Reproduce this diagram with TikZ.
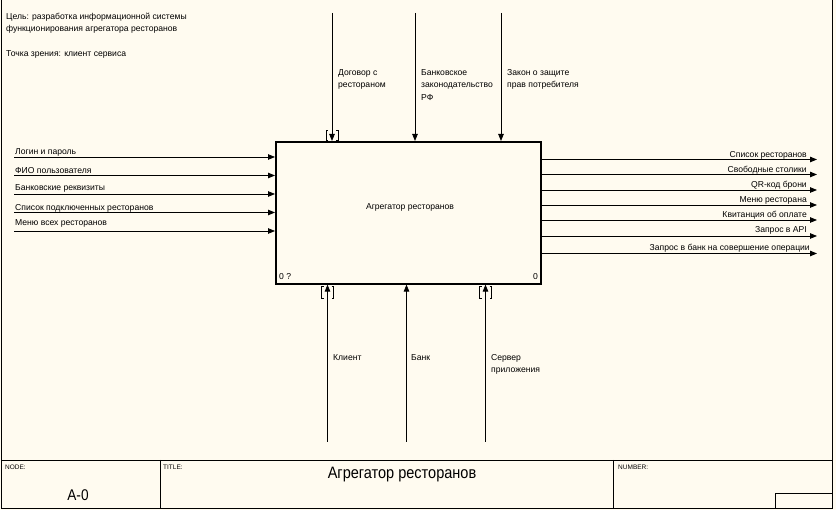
\documentclass[tikz,border=0pt]{standalone}
\usepackage{fontspec}
\setmainfont{Liberation Sans}
\newfontfamily\narrowfont[FakeStretch=0.88]{Liberation Sans}
\usetikzlibrary{arrows.meta}
\definecolor{paper}{RGB}{255,251,240}
\tikzset{
  arr/.style={-{Triangle[length=7pt,width=5.5pt]}, line width=0.8pt},
  lbl/.style={inner sep=0pt, font=\fontsize{8.6}{12.5}\selectfont},
  small/.style={inner sep=0pt, font=\fontsize{6.5}{7}\selectfont},
  frame/.style={line width=0.9pt},
  brk/.style={line width=0.7pt}
}
\begin{document}
\begin{tikzpicture}[x=1pt,y=-1pt]
\useasboundingbox (0,0) rectangle (836,510);
\fill[paper] (0,0) rectangle (836,510);
% frame
\draw[frame] (1,0) -- (1,508) -- (832.5,508) -- (832.5,0);
\draw[frame] (1,460) -- (832.5,460);
\draw[frame] (160,460) -- (160,508);
\draw[frame] (613,460) -- (613,508);
\draw[frame] (775,508) -- (775,493) -- (832.5,493);
% title block texts
\node[small, anchor=base west] (tnode) at (5,470) {NODE:};
\node[small, anchor=base west] (ttitle) at (163,470) {TITLE:};
\node[small, anchor=base west] (tnum) at (618,470) {NUMBER:};
\node[inner sep=0pt, font=\narrowfont\fontsize{15.5}{17}\selectfont, anchor=base] (tA0) at (78,501) {A-0};
\node[inner sep=0pt, font=\narrowfont\fontsize{16.5}{18}\selectfont, anchor=base] (tname) at (402,479) {Агрегатор ресторанов};
% purpose
\node[lbl, anchor=base west, align=left] (goal) at (6,32) {Цель: разработка информационной системы\\функционирования агрегатора ресторанов};
\node[lbl, anchor=base west] (view) at (6,57) {Точка зрения: клиент сервиса};
% main box
\node[draw, line width=1.6pt, minimum width=265pt, minimum height=142pt, anchor=north west, inner sep=0pt] (A0) at (275,141) {};
\node[lbl] (A0name) at (410,207) {Агрегатор ресторанов};
\node[lbl, anchor=base west] (A0l) at (279,280) {0 ?};
\node[lbl, anchor=base east] (A0r) at (538,280) {0};
% controls
\coordinate (c1) at (332,13);
\coordinate (c2) at (415,13);
\coordinate (c3) at (501,13);
\draw[arr] (c1) -- (c1 |- A0.north);
\draw[arr] (c2) -- (c2 |- A0.north);
\draw[arr] (c3) -- (c3 |- A0.north);
\node[lbl, anchor=base west, align=left] (lc1) at (338,88) {Договор с\\рестораном};
\node[lbl, anchor=base west, align=left] (lc2) at (421,100.5) {Банковское\\законодательство\\РФ};
\node[lbl, anchor=base west, align=left] (lc3) at (507,88) {Закон о защите\\прав потребителя};
\draw[brk] (328,130) -- (326,130) -- (326,140) -- (328,140);
\draw[brk] (336,130) -- (338,130) -- (338,140) -- (336,140);
% inputs
\coordinate (i1) at (14,157);
\coordinate (i2) at (14,175.5);
\coordinate (i3) at (14,194);
\coordinate (i4) at (14,212.5);
\coordinate (i5) at (14,231);
\foreach \i in {1,...,5} {\draw[arr] (i\i) -- (i\i -| A0.west);}
\node[lbl, anchor=base west] (li1) at (15,155) {Логин и пароль};
\node[lbl, anchor=base west] (li2) at (15,174) {ФИО пользователя};
\node[lbl, anchor=base west] (li3) at (15,190.5) {Банковские реквизиты};
\node[lbl, anchor=base west] (li4) at (15,211) {Список подключенных ресторанов};
\node[lbl, anchor=base west] (li5) at (15,226) {Меню всех ресторанов};
% outputs
\coordinate (o1) at (817,159.5);
\coordinate (o2) at (817,174.5);
\coordinate (o3) at (817,190);
\coordinate (o4) at (817,205);
\coordinate (o5) at (817,220);
\coordinate (o6) at (817,236);
\coordinate (o7) at (817,253.5);
\foreach \i in {1,...,7} {\draw[arr] (o\i -| A0.east) -- (o\i);}
\node[lbl, anchor=base east] (lo1) at (807,158) {Список ресторанов};
\node[lbl, anchor=base east] (lo2) at (807,173) {Свободные столики};
\node[lbl, anchor=base east] (lo3) at (807,187.5) {QR-код брони};
\node[lbl, anchor=base east] (lo4) at (807,203) {Меню ресторана};
\node[lbl, anchor=base east] (lo5) at (807,218) {Квитанция об оплате};
\node[lbl, anchor=base east] (lo6) at (807,233) {Запрос в API};
\node[lbl, anchor=base east] (lo7) at (810,251) {Запрос в банк на совершение операции};
% mechanisms
\coordinate (m1) at (327.5,442);
\coordinate (m2) at (406.5,442);
\coordinate (m3) at (485.5,442);
\draw[arr] (m1) -- (m1 |- A0.south);
\draw[arr] (m2) -- (m2 |- A0.south);
\draw[arr] (m3) -- (m3 |- A0.south);
\node[lbl, anchor=base west] (lm1) at (333,360.5) {Клиент};
\node[lbl, anchor=base west] (lm2) at (411,360.5) {Банк};
\node[lbl, anchor=base west, align=left] (lm3) at (491,373) {Сервер\\приложения};
\draw[brk] (323.5,286) -- (321.5,286) -- (321.5,298) -- (323.5,298);
\draw[brk] (331.5,286) -- (333.5,286) -- (333.5,298) -- (331.5,298);
\draw[brk] (481.5,286) -- (479.5,286) -- (479.5,298) -- (481.5,298);
\draw[brk] (489.5,286) -- (491.5,286) -- (491.5,298) -- (489.5,298);
\end{tikzpicture}
\end{document}
